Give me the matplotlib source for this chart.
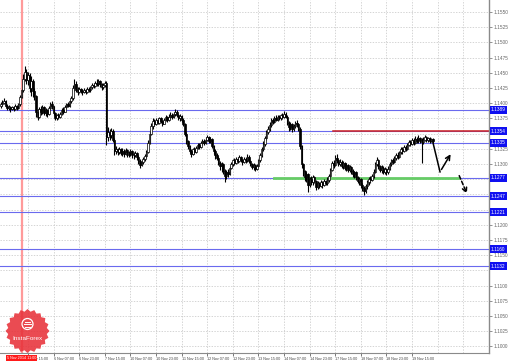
import matplotlib
matplotlib.use("Agg")
import matplotlib.pyplot as plt
import numpy as np
from matplotlib.patches import Polygon, Circle

plt.rcParams["font.family"] = ["Liberation Sans", "DejaVu Sans"]

# ---------------- data (USDCAD H1) ----------------
first_open = 1.1396
close = [1.1398,1.1401,1.1404,1.1396,1.1392,
 1.1394,1.1390,1.1393,1.1391,1.1395,1.1392,1.1398,
 1.1410,1.1421,
 1.1440,1.1452,1.1438,
 1.1446,1.1425,1.1436,1.1420,1.1412,
 1.1385,1.1378,
 1.1390,1.1385,1.1393,1.1384,1.1389,1.1382,1.1392,1.1398,
 1.1395,
 1.1384,1.1376,1.1380,1.1377,1.1383,
 1.1389,1.1386,1.1394,1.1398,1.1396,1.1403,1.1408,
 1.1425,1.1432,
 1.1422,1.1419,1.1423,1.1420,1.1418,1.1422,1.1419,1.1424,1.1421,
 1.1426,1.1430,1.1428,1.1434,1.1431,1.1436,1.1432,
 1.1426,1.1430,1.1434,
 1.1345,
 1.1352,1.1347,1.1355,1.1340,
 1.1322,
 1.1325,1.1320,1.1324,1.1318,1.1322,1.1317,1.1323,1.1319,1.1315,1.1321,1.1317,1.1314,1.1318,1.1312,
 1.1305,1.1298,1.1303,
 1.1308,1.1313,1.1320,
 1.1335,1.1350,1.1362,1.1370,
 1.1366,1.1372,1.1368,1.1375,1.1370,1.1366,1.1373,1.1377,1.1372,1.1378,1.1381,
 1.1377,1.1383,1.1386,1.1380,
 1.1376,1.1379,1.1373,1.1366,
 1.1350,1.1338,1.1330,
 1.1322,1.1316,1.1324,
 1.1320,1.1327,1.1331,1.1328,1.1334,1.1338,1.1335,1.1340,1.1344,
 1.1338,1.1341,
 1.1330,1.1322,1.1314,1.1310,
 1.1302,1.1296,1.1300,1.1288,1.1280,
 1.1287,1.1284,1.1294,1.1300,1.1306,
 1.1302,1.1308,1.1305,1.1311,1.1307,1.1303,1.1309,1.1306,1.1312,1.1305,1.1300,
 1.1295,1.1298,1.1292,1.1297,
 1.1306,1.1315,1.1325,1.1333,
 1.1342,1.1352,1.1358,1.1364,
 1.1372,1.1369,1.1376,1.1373,1.1378,1.1375,1.1380,1.1377,1.1383,1.1378,
 1.1368,1.1360,1.1365,1.1357,1.1362,1.1368,
 1.1365,1.1358,
 1.1330,1.1300,1.1288,
 1.1278,1.1283,1.1266,1.1275,1.1270,1.1278,1.1272,1.1262,1.1268,
 1.1264,1.1270,1.1266,1.1272,1.1268,1.1274,1.1280,
 1.1290,1.1302,1.1298,1.1310,1.1306,
 1.1300,1.1304,1.1297,1.1301,1.1294,1.1298,1.1290,1.1295,1.1288,
 1.1283,1.1286,1.1278,1.1272,1.1275,1.1265,1.1260,1.1256,
 1.1264,1.1270,1.1276,1.1273,1.1280,1.1287,
 1.1300,1.1306,
 1.1296,1.1290,1.1294,1.1287,1.1291,1.1286,1.1292,
 1.1300,1.1306,1.1303,1.1310,1.1315,1.1312,1.1319,1.1324,
 1.1321,1.1328,1.1325,1.1332,1.1336,1.1333,
 1.1339,1.1335,1.1341,1.1337,1.1343,1.1339,1.1336,1.1340,1.1344,1.1339,1.1342,
 1.1338,1.1341,1.1337]

high = [1.1402,1.1405,1.1408,1.1405,1.1398,
 1.1397,1.1396,1.1396,1.1395,1.1398,1.1397,1.1401,
 1.1413,1.1424,
 1.1448,1.1461,1.1456,
 1.1452,1.1449,1.1444,1.1440,1.1425,
 1.1414,1.1390,
 1.1394,1.1395,1.1397,1.1395,1.1392,1.1391,1.1396,1.1402,
 1.1403,
 1.1396,1.1386,1.1383,1.1384,1.1386,
 1.1392,1.1393,1.1397,1.1401,1.1402,1.1406,1.1411,
 1.1430,1.1440,
 1.1436,1.1426,1.1426,1.1425,1.1423,1.1425,1.1424,1.1427,1.1426,
 1.1429,1.1433,1.1434,1.1437,1.1439,1.1440,1.1438,
 1.1434,1.1433,1.1437,
 1.1437,
 1.1360,1.1358,1.1359,1.1357,
 1.1342,
 1.1330,1.1327,1.1328,1.1326,1.1326,1.1324,1.1327,1.1325,1.1322,1.1325,1.1323,1.1320,1.1322,1.1320,
 1.1314,1.1308,1.1306,
 1.1311,1.1316,1.1323,
 1.1339,1.1354,1.1367,1.1375,
 1.1374,1.1376,1.1375,1.1378,1.1377,1.1372,1.1376,1.1381,1.1379,1.1382,1.1385,
 1.1384,1.1386,1.1390,1.1388,
 1.1382,1.1382,1.1381,1.1375,
 1.1368,1.1352,1.1340,
 1.1332,1.1325,1.1327,
 1.1328,1.1330,1.1334,1.1335,1.1337,1.1341,1.1341,1.1344,1.1347,
 1.1346,1.1344,
 1.1342,1.1332,1.1325,1.1318,
 1.1313,1.1305,1.1304,1.1302,1.1292,
 1.1290,1.1292,1.1297,1.1304,1.1309,
 1.1310,1.1312,1.1311,1.1315,1.1313,1.1309,1.1312,1.1311,1.1316,1.1314,1.1307,
 1.1302,1.1301,1.1300,1.1300,
 1.1309,1.1318,1.1328,1.1337,
 1.1346,1.1356,1.1363,1.1369,
 1.1375,1.1376,1.1379,1.1380,1.1381,1.1381,1.1383,1.1384,1.1387,1.1385,
 1.1380,1.1370,1.1369,1.1367,1.1365,1.1371,
 1.1372,1.1368,
 1.1360,1.1332,1.1302,
 1.1290,1.1286,1.1285,1.1279,1.1280,1.1282,1.1281,1.1274,1.1272,
 1.1271,1.1274,1.1272,1.1275,1.1274,1.1278,1.1283,
 1.1294,1.1305,1.1306,1.1314,1.1316,
 1.1309,1.1308,1.1306,1.1305,1.1303,1.1302,1.1300,1.1298,1.1297,
 1.1291,1.1289,1.1288,1.1281,1.1279,1.1277,1.1268,1.1263,
 1.1267,1.1273,1.1279,1.1280,1.1284,1.1291,
 1.1304,1.1311,
 1.1308,1.1299,1.1298,1.1296,1.1295,1.1293,1.1296,
 1.1303,1.1309,1.1310,1.1313,1.1318,1.1319,1.1322,1.1328,
 1.1328,1.1331,1.1332,1.1335,1.1339,1.1340,
 1.1342,1.1343,1.1346,1.1344,1.1348,1.1345,1.1342,1.1344,1.1347,1.1346,1.1345,
 1.1344,1.1343,1.1342]

low = [1.1392,1.1395,1.1398,1.1393,1.1388,
 1.1388,1.1386,1.1388,1.1387,1.1389,1.1388,1.1390,
 1.1396,1.1408,
 1.1418,1.1436,1.1432,
 1.1430,1.1418,1.1412,1.1410,1.1405,
 1.1378,1.1372,
 1.1376,1.1380,1.1382,1.1380,1.1379,1.1377,1.1381,1.1389,
 1.1390,
 1.1380,1.1372,1.1373,1.1374,1.1375,
 1.1381,1.1383,1.1385,1.1391,1.1393,1.1394,1.1400,
 1.1406,1.1420,
 1.1418,1.1414,1.1417,1.1416,1.1414,1.1416,1.1415,1.1417,1.1418,
 1.1419,1.1423,1.1425,1.1426,1.1428,1.1429,1.1427,
 1.1422,1.1423,1.1427,
 1.1332,
 1.1338,1.1340,1.1342,1.1336,
 1.1315,
 1.1317,1.1315,1.1316,1.1314,1.1313,1.1312,1.1315,1.1312,1.1311,1.1313,1.1310,1.1308,1.1311,1.1307,
 1.1300,1.1294,1.1296,
 1.1300,1.1305,1.1310,
 1.1318,1.1333,1.1347,1.1358,
 1.1362,1.1364,1.1365,1.1366,1.1367,1.1363,1.1365,1.1370,1.1369,1.1370,1.1374,
 1.1374,1.1375,1.1379,1.1377,
 1.1372,1.1371,1.1369,1.1362,
 1.1346,1.1333,1.1325,
 1.1318,1.1312,1.1314,
 1.1316,1.1318,1.1324,1.1325,1.1326,1.1331,1.1332,1.1333,1.1337,
 1.1335,1.1334,
 1.1326,1.1317,1.1309,1.1306,
 1.1298,1.1290,1.1287,1.1283,1.1271,
 1.1276,1.1278,1.1282,1.1291,1.1297,
 1.1299,1.1300,1.1302,1.1303,1.1304,1.1299,1.1301,1.1302,1.1304,1.1301,1.1296,
 1.1291,1.1290,1.1289,1.1290,
 1.1295,1.1303,1.1312,1.1322,
 1.1330,1.1339,1.1349,1.1355,
 1.1361,1.1366,1.1367,1.1370,1.1371,1.1372,1.1373,1.1374,1.1376,1.1375,
 1.1364,1.1355,1.1356,1.1352,1.1354,1.1359,
 1.1361,1.1354,
 1.1325,1.1294,1.1281,
 1.1272,1.1270,1.1254,1.1262,1.1265,1.1266,1.1268,1.1258,1.1259,
 1.1260,1.1262,1.1261,1.1264,1.1265,1.1266,1.1271,
 1.1278,1.1288,1.1294,1.1296,1.1302,
 1.1296,1.1297,1.1293,1.1292,1.1290,1.1289,1.1286,1.1287,1.1284,
 1.1279,1.1277,1.1274,1.1268,1.1266,1.1261,1.1255,1.1249,
 1.1252,1.1259,1.1266,1.1269,1.1272,1.1277,
 1.1285,1.1296,
 1.1292,1.1286,1.1285,1.1283,1.1284,1.1282,1.1284,
 1.1290,1.1297,1.1300,1.1301,1.1307,1.1309,1.1310,1.1316,
 1.1317,1.1319,1.1322,1.1323,1.1329,1.1330,
 1.1331,1.1332,1.1333,1.1334,1.1335,1.1334,1.1302,1.1333,1.1337,1.1336,1.1336,
 1.1335,1.1336,1.1334]

time_label_bars = [17, 33, 49, 65, 81, 97, 113, 129, 145, 161, 177, 193, 209, 225, 241, 257]
time_labels = ["5 Nov 15:00", "6 Nov 07:00", "6 Nov 23:00", "7 Nov 15:00",
               "10 Nov 07:00", "10 Nov 23:00", "11 Nov 15:00", "12 Nov 07:00", "12 Nov 23:00",
               "13 Nov 15:00", "14 Nov 07:00", "14 Nov 23:00", "17 Nov 15:00", "18 Nov 07:00",
               "18 Nov 23:00", "19 Nov 15:00"]
price_ticks = [round(1.1550 - 0.0025 * k, 4) for k in range(23)]

blue_levels = [1.1389, 1.1354, 1.1335, 1.1277, 1.1247, 1.1221, 1.1160, 1.1132]
red_level = 1.1354
red_start_bar = 207.6
green_level = 1.1277
green_bars = (170.8, 285.7)
vline_bar = 13
vline_label = "5 Nov 2014 11:00"

# forecast arrows (bar index, price)
arrow1 = [(270, 1.1336), (274.5, 1.1287), (282, 1.1320)]
arrow2 = [(285.8, 1.1285), (292, 1.1247)]

# ---------------- figure ----------------
W, H = 510, 364
fig = plt.figure(figsize=(W / 100, H / 100), dpi=100)
fig.patch.set_facecolor("white")
ax = fig.add_axes([0, 11 / H, 489 / W, 353 / H])
ax.set_facecolor("white")
ax.set_xlim(-0.5, 305.1)
ax.set_ylim(1.09891, 1.15697)

grid_kw = dict(color="#c4c4c4", lw=0.5, ls=(0, (2, 2)), zorder=0)
for p in price_ticks:
    ax.axhline(p, **grid_kw)
for b in range(time_label_bars[0], 306, 16):
    ax.axvline(b, **grid_kw)

# red vertical line
ax.axvline(vline_bar, color="#ff9a9a", lw=1.6, zorder=1)

# horizontal levels
for p in blue_levels:
    ax.axhline(p, color="#6a6aee", lw=0.8, zorder=2)
ax.plot([red_start_bar, 305.1], [red_level, red_level], color="#cc1f1f", lw=1.1, zorder=2.5)
ax.plot(list(green_bars), [green_level, green_level], color="#66cc66", lw=2.0, zorder=2.5)

# candles
c = np.array(close); h = np.array(high); l = np.array(low)
o = np.concatenate([[first_open], c[:-1]])
idx = np.arange(len(c))
ax.vlines(idx, np.minimum(l, np.minimum(o, c)), np.maximum(h, np.maximum(o, c)),
          color="black", lw=0.8, zorder=3)
up = c >= o
bb = np.minimum(o, c)
bh = np.maximum(np.abs(c - o), 0.00004)
ax.bar(idx[up], bh[up], bottom=bb[up], width=0.9, color="white", edgecolor="black",
       linewidth=0.5, zorder=4)
ax.bar(idx[~up], bh[~up], bottom=bb[~up], width=0.9, color="black", edgecolor="black",
       linewidth=0.5, zorder=4)

# arrows
ax.plot([arrow1[0][0], arrow1[1][0]], [arrow1[0][1], arrow1[1][1]], color="black", lw=1.1, zorder=6)
ax.annotate("", xy=arrow1[2], xytext=arrow1[1],
            arrowprops=dict(arrowstyle="->", color="black", lw=1.1, mutation_scale=8), zorder=6)
ax.annotate("", xy=arrow2[1], xytext=arrow2[0],
            arrowprops=dict(arrowstyle="->", color="black", lw=1.1, ls=(0, (2.5, 1.5)),
                            mutation_scale=8), zorder=6)

# axes styling
for s in ["left", "top"]:
    ax.spines[s].set_visible(False)
ax.spines["right"].set_color("#8a8a8a")
ax.spines["right"].set_linewidth(1.0)
ax.spines["bottom"].set_color("#8a8a8a")
ax.spines["bottom"].set_linewidth(0.8)

# gray price labels (those hidden under blue level labels are left out)
shown = [p for p in price_ticks if min(abs(p - b) for b in blue_levels) > 0.0007]
ax.yaxis.tick_right()
ax.set_yticks(shown)
ax.set_yticklabels([f"{p:.4f}" for p in shown])
ax.tick_params(axis="y", length=2, width=0.5, colors="#666666", labelsize=3.4, pad=1)
ax.set_xticks(time_label_bars)
ax.set_xticklabels(time_labels)
for t in ax.get_xticklabels():
    t.set_ha("left")
ax.tick_params(axis="x", length=2, width=0.5, colors="#444444", labelsize=2.7, pad=1)

# blue price labels
for p in blue_levels:
    ax.text(1.004, p, f"{p:.4f}", transform=ax.get_yaxis_transform(), ha="left", va="center",
            fontsize=3.4, color="white", clip_on=False, zorder=10,
            bbox=dict(boxstyle="square,pad=0.3", fc="#1010f0", ec="none"))

# red time label for vertical line
ax.text(vline_bar, -0.008, vline_label, transform=ax.get_xaxis_transform(), ha="center", va="top",
        fontsize=2.7, color="white", clip_on=False, zorder=10,
        bbox=dict(boxstyle="square,pad=0.3", fc="#ff1a1a", ec="none"))

# logo overlay (pixel coordinates)
ov = fig.add_axes([0, 0, 1, 1], zorder=5)
ov.set_xlim(0, W); ov.set_ylim(H, 0); ov.axis("off"); ov.patch.set_alpha(0)
n_t = 20
ang = np.linspace(0, 2 * np.pi, 2 * n_t, endpoint=False)
rad = np.where(np.arange(2 * n_t) % 2 == 0, 22, 19.5)
cx, cy = 27.5, 331
pts = np.column_stack([cx + rad * np.cos(ang), cy + rad * np.sin(ang)])
ov.add_patch(Polygon(pts, closed=True, fc="#e8323a", ec="none", alpha=0.88))
ov.add_patch(Circle((cx, cy - 7), 5.5, fill=False, ec="white", lw=0.9))
ov.plot([cx - 3.5, cx + 3.5], [cy - 7, cy - 7], color="white", lw=0.7)
ov.plot([cx - 2.5, cx + 2.5], [cy - 9.5, cy - 9.5], color="white", lw=0.7)
ov.plot([cx - 2.5, cx + 2.5], [cy - 4.5, cy - 4.5], color="white", lw=0.7)
ov.text(cx, cy + 7, "InstaForex", ha="center", va="center", fontsize=4.6, color="white")

fig.savefig("out.png", dpi=100, facecolor="white")
